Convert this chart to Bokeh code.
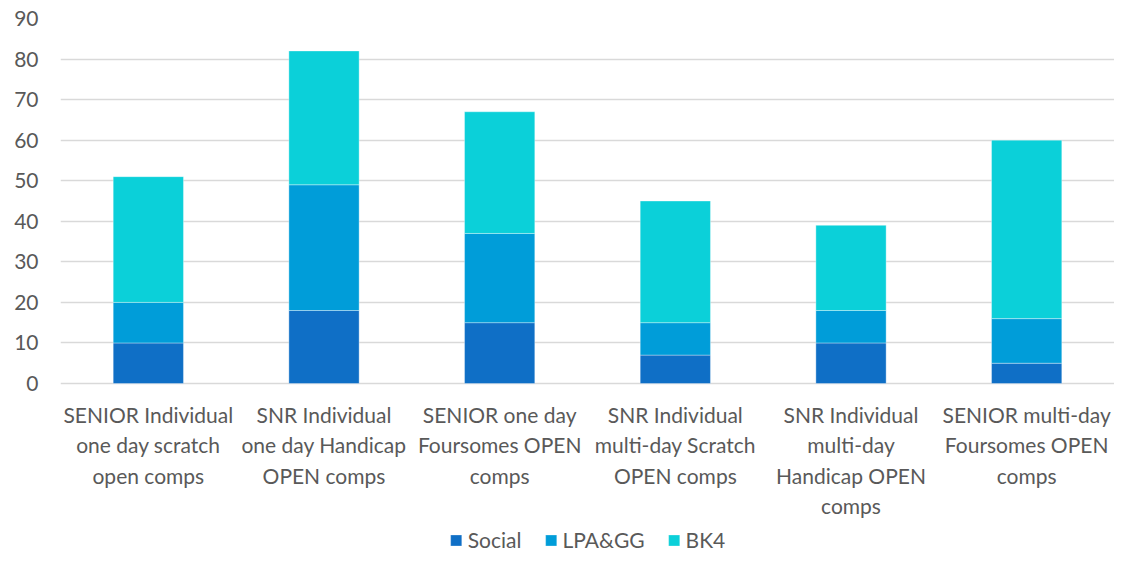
from bokeh.plotting import figure
from bokeh.models import ColumnDataSource, FactorRange, Range1d, Legend, LegendItem, FixedTicker
from bokeh.core.properties import value
from bokeh.embed import file_html
from bokeh.resources import INLINE

categories = [
    "SENIOR Individual\none day scratch\nopen comps",
    "SNR Individual\none day Handicap\nOPEN comps",
    "SENIOR one day\nFoursomes OPEN\ncomps",
    "SNR Individual\nmulti-day Scratch\nOPEN comps",
    "SNR Individual\nmulti-day\nHandicap OPEN\ncomps",
    "SENIOR multi-day\nFoursomes OPEN\ncomps",
]
series = ["Social", "LPA&GG", "BK4"]
social = [10, 18, 15, 7, 10, 5]
lpa_gg = [10, 31, 22, 8, 8, 11]
bk4 = [31, 33, 30, 30, 21, 44]
y_ticks = [0, 10, 20, 30, 40, 50, 60, 70, 80, 90]

colors = ["#0F6FC6", "#009DD9", "#0BD0D9"]
FONT = "Lato"
TXT = "#595959"

# layout (pixels)
W, H = 1114, 552
TOP = 18          # pixel row of value 90
ZERO = 383        # pixel row of value 0
px_per_unit = (ZERO - TOP) / 90.0
y_bottom = -(H - ZERO) / px_per_unit
label_top = -18 / px_per_unit   # category labels start under the zero line

source = ColumnDataSource(dict(cat=categories, Social=social, **{"LPA&GG": lpa_gg}, BK4=bk4))

p = figure(width=W, height=H, output_backend="svg", toolbar_location=None,
           x_range=FactorRange(*categories, range_padding=0), y_range=Range1d(y_bottom, 90),
           min_border_left=60, min_border_right=0, min_border_top=TOP, min_border_bottom=0)
p.outline_line_color = None
p.background_fill_color = "white"

renderers = p.vbar_stack(series, x="cat", width=0.40, source=source, color=colors,
                         line_color="white", line_alpha=0.35, line_width=1)

p.yaxis.ticker = FixedTicker(ticks=y_ticks)
p.yaxis.axis_line_color = None
p.yaxis.major_tick_line_color = None
p.yaxis.minor_tick_line_color = None
p.yaxis.major_tick_out = 0
p.yaxis.major_tick_in = 0
p.yaxis.major_label_text_font = FONT
p.yaxis.major_label_text_font_size = "21px"
p.yaxis.major_label_text_color = TXT
p.yaxis.major_label_standoff = 22

p.xaxis.visible = False
p.xgrid.grid_line_color = None
p.ygrid.ticker = FixedTicker(ticks=y_ticks)
p.ygrid.grid_line_color = "#D9D9D9"
p.ygrid.grid_line_width = 1.5

lab_src = ColumnDataSource(dict(cat=categories, y=[label_top] * len(categories)))
p.text(x="cat", y="y", text="cat", source=lab_src, text_align="center", text_baseline="top",
       text_font=value(FONT), text_font_size="21px", text_color=TXT, text_line_height=1.22)

legend = Legend(items=[LegendItem(label=s, renderers=[r]) for s, r in zip(series, renderers)],
                orientation="horizontal", location="bottom_center",
                label_text_font=FONT, label_text_font_size="21px", label_text_color=TXT,
                glyph_width=14, glyph_height=14, spacing=22, label_standoff=5,
                border_line_color=None, background_fill_alpha=0, padding=0, margin=0)
p.add_layout(legend, "center")

open("out.html", "w").write(file_html(p, INLINE))
